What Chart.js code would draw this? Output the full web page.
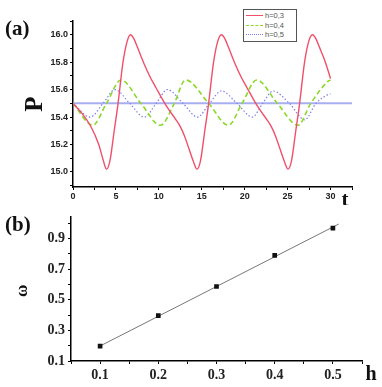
<!DOCTYPE html>
<html>
<head>
<meta charset="utf-8">
<script src="https://cdn.jsdelivr.net/npm/chart.js@4.4.1/dist/chart.umd.min.js"></script>
<style>
    body { margin: 0; background: #fff; width: 382px; height: 387px; position: relative; overflow: hidden; }
    .panel { position: absolute; left: 0; width: 382px; }
    #boxA { top: 0; height: 205px; }
    #boxB { top: 205px; height: 182px; }
    .tag { position: absolute; left: 5px; font: bold 21px "Liberation Serif", serif; color: #111; }
    #legendA { position: absolute; left: 243px; top: 9px; width: 48px; border: 1px solid #555; background: #fff;
               padding: 1px 2px; font: 7.5px "Liberation Sans", sans-serif; color: #555; }
    .row { display: flex; align-items: center; height: 9.5px; }
    .swatch { width: 17px; height: 0; margin-right: 2px; }
</style>
</head>
<body>
<div class="panel" id="boxA"><canvas id="chartA" width="382" height="205"></canvas></div>
<div class="panel" id="boxB"><canvas id="chartB" width="382" height="182"></canvas></div>
<div class="tag" style="top:16px">(a)</div>
<div class="tag" style="top:212px">(b)</div>
<div id="legendA"></div>

<script>
// Datos del panel (a): P en función de t para tres valores de h.
const T_RED = [0, 1.0, 2.0, 3.0, 3.5, 3.9, 4.3, 4.8, 5.25, 5.8, 6.3, 6.7, 7.1, 7.5, 8.2, 9.0, 9.7, 10.5, 11.2, 12.0, 12.5, 13.0, 13.5, 14.0,
               14.45, 14.85, 15.35, 15.8, 16.35, 16.85, 17.3, 17.7, 18.1, 18.8, 19.6, 20.3, 21.1, 21.8, 22.6, 23.1, 23.6, 24.1, 24.6,
               25.05, 25.45, 25.95, 26.4, 26.95, 27.45, 27.9, 28.3, 28.7, 29.4, 30.0];
const P_RED = [15.50, 15.43, 15.34, 15.20, 15.09, 15.02, 15.08, 15.30, 15.50, 15.79, 15.95, 16.00, 15.97, 15.91, 15.80, 15.69, 15.61, 15.52, 15.45, 15.38, 15.33, 15.26, 15.17, 15.08,
               15.02, 15.08, 15.30, 15.50, 15.79, 15.95, 16.00, 15.97, 15.91, 15.80, 15.69, 15.61, 15.52, 15.45, 15.38, 15.33, 15.26, 15.17, 15.08,
               15.02, 15.08, 15.30, 15.50, 15.79, 15.95, 16.00, 15.97, 15.91, 15.80, 15.68];

const T_GREEN = [0, 2.3, 3.9, 5.6, 7.9, 10.2, 11.8, 13.1, 15.8, 18.1, 19.7, 21.4, 23.8, 26.2, 27.7, 29.7, 30.0];
const P_GREEN = [15.50, 15.34, 15.50, 15.67, 15.50, 15.34, 15.50, 15.67, 15.50, 15.34, 15.50, 15.67, 15.50, 15.34, 15.50, 15.66, 15.67];

const T_BLUE = [0, 2.0, 3.5, 4.9, 6.6, 8.3, 9.7, 11.0, 12.8, 14.5, 15.9, 17.3, 19.1, 20.9, 22.1, 23.3, 25.2, 27.0, 28.3, 29.6, 30.0];
const P_BLUE = [15.50, 15.40, 15.50, 15.60, 15.50, 15.40, 15.50, 15.60, 15.50, 15.40, 15.50, 15.59, 15.50, 15.40, 15.50, 15.59, 15.50, 15.38, 15.50, 15.56, 15.57];

// Línea horizontal de referencia en P = 15.5.
const T_REF = [0, 32.5];
const P_REF = [15.5, 15.5];

const SERIES_A = ['h=0,3', 'h=0,4', 'h=0,5'];

// Marcas de los ejes del panel (a).
const X_TICKS_A = [0, 2.5, 5, 7.5, 10, 12.5, 15, 17.5, 20, 22.5, 25, 27.5, 30, 32.5];
const X_LABELS_A = [0, 5, 10, 15, 20, 25, 30];
const Y_TICKS_A = [14.9, 15.0, 15.1, 15.2, 15.3, 15.4, 15.5, 15.6, 15.7, 15.8, 15.9, 16.0, 16.1];
const Y_LABELS_A = [15.0, 15.2, 15.4, 15.6, 15.8, 16.0];

// Datos del panel (b): frecuencia ω en función de h y su ajuste lineal.
const H_VALUES = [0.1, 0.2, 0.3, 0.4, 0.5];
const OMEGA_VALUES = [0.197, 0.397, 0.587, 0.790, 0.968];
const H_FIT = [0.1, 0.51];
const OMEGA_FIT = [0.198, 0.995];

const X_TICKS_B = [0.05, 0.1, 0.15, 0.2, 0.25, 0.3, 0.35, 0.4, 0.45, 0.5, 0.55];
const X_LABELS_B = [0.1, 0.2, 0.3, 0.4, 0.5];
const Y_TICKS_B = [0.1, 0.2, 0.3, 0.4, 0.5, 0.6, 0.7, 0.8, 0.9, 1.0];
const Y_LABELS_B = [0.1, 0.3, 0.5, 0.7, 0.9];

const pairs = (xs, ys) => xs.map((x, i) => ({ x: x, y: ys[i] }));
const isIn = (list, v) => list.some(l => Math.abs(l - v) < 1e-6);

/*
*   Plugin para escribir los nombres de los ejes junto al área del gráfico.
*/
const axisLetters = {
    id: 'axisLetters',
    afterDraw(chart, args, opts) {
        const ctx = chart.ctx;
        const area = chart.chartArea;
        (opts.items || []).forEach(item => {
            ctx.save();
            ctx.font = item.font;
            ctx.fillStyle = '#111';
            ctx.textAlign = 'center';
            ctx.textBaseline = 'middle';
            const x = item.side === 'left' ? area.left + item.dx : area.right + item.dx;
            const y = item.side === 'left' ? (area.top + area.bottom) / 2 + item.dy : area.bottom + item.dy;
            ctx.translate(x, y);
            if (item.rotate) ctx.rotate(-Math.PI / 2);
            ctx.fillText(item.text, 0, 0);
            ctx.restore();
        });
    }
};

const axisStyle = (font, pad) => ({
    border: { display: true, color: '#000', width: 1.5 },
    grid: { drawOnChartArea: false, drawTicks: true, tickLength: 3, color: '#000', tickWidth: 1 },
    ticks: { font: font, color: '#222', padding: pad, autoSkip: false, maxRotation: 0 }
});

// Panel (a)
const fontA = { family: '"Liberation Sans", Arial, sans-serif', size: 9, weight: 'bold' };
const xA = axisStyle(fontA, 1);
const yA = axisStyle(fontA, 2);
const chartA = new Chart(document.getElementById('chartA'), {
    type: 'line',
    data: {
        datasets: [
            { label: SERIES_A[0], data: pairs(T_RED, P_RED), borderColor: '#f0506a', borderWidth: 1.4, pointRadius: 0, cubicInterpolationMode: 'monotone' },
            { label: SERIES_A[1], data: pairs(T_GREEN, P_GREEN), borderColor: '#8ad82a', borderWidth: 1.6, borderDash: [5, 3], pointRadius: 0, cubicInterpolationMode: 'monotone' },
            { label: SERIES_A[2], data: pairs(T_BLUE, P_BLUE), borderColor: '#8080ee', borderWidth: 1.2, borderDash: [1.5, 2], pointRadius: 0, cubicInterpolationMode: 'monotone' },
            { label: 'ref', data: pairs(T_REF, P_REF), borderColor: '#a8aef2', borderWidth: 2, pointRadius: 0 }
        ]
    },
    options: {
        responsive: false,
        animation: false,
        layout: { padding: { left: 0, right: 30, top: 21, bottom: 0 } },
        plugins: {
            legend: { display: false },
            tooltip: { enabled: false },
            axisLetters: {
                items: [
                    { text: 'P', font: 'bold 25px "Liberation Serif", serif', side: 'left', dx: -37, dy: 0, rotate: true },
                    { text: 't', font: 'bold 21px "Liberation Serif", serif', side: 'right', dx: -7, dy: 14 }
                ]
            }
        },
        scales: {
            x: {
                type: 'linear', min: 0, max: 32.5, ...xA,
                ticks: { ...xA.ticks, callback: v => isIn(X_LABELS_A, v) ? String(v) : '' },
                afterBuildTicks: s => { s.ticks = X_TICKS_A.map(v => ({ value: v })); },
                afterFit: s => { s.height = 18; }
            },
            y: {
                type: 'linear', min: 14.89, max: 16.1, ...yA,
                ticks: { ...yA.ticks, callback: v => isIn(Y_LABELS_A, v) ? v.toFixed(1) : '' },
                afterBuildTicks: s => { s.ticks = Y_TICKS_A.map(v => ({ value: v })); },
                afterFit: s => { s.width = 73; }
            }
        }
    },
    plugins: [axisLetters]
});

// Leyenda del panel (a) construida desde los conjuntos de datos.
const legendA = document.getElementById('legendA');
chartA.data.datasets.slice(0, 3).forEach((ds, i) => {
    const row = document.createElement('div');
    row.className = 'row';
    const sw = document.createElement('span');
    sw.className = 'swatch';
    sw.style.borderTop = `1.5px ${['solid', 'dashed', 'dotted'][i]} ${ds.borderColor}`;
    const txt = document.createElement('span');
    txt.textContent = ds.label;
    row.appendChild(sw);
    row.appendChild(txt);
    legendA.appendChild(row);
});

// Panel (b)
const fontB = { family: '"Liberation Serif", "Times New Roman", serif', size: 14, weight: 'bold' };
const xB = axisStyle(fontB, 3);
const yB = axisStyle(fontB, 3);
new Chart(document.getElementById('chartB'), {
    type: 'scatter',
    data: {
        datasets: [
            { label: 'fit', data: pairs(H_FIT, OMEGA_FIT), showLine: true, borderColor: '#777', borderWidth: 1, pointRadius: 0, order: 2 },
            { label: 'ω', data: pairs(H_VALUES, OMEGA_VALUES), pointStyle: 'rect', pointRadius: 3.3, backgroundColor: '#111', borderColor: '#111', borderWidth: 0, order: 1 }
        ]
    },
    options: {
        responsive: false,
        animation: false,
        layout: { padding: { left: 0, right: 20, top: 11, bottom: 0 } },
        plugins: {
            legend: { display: false },
            tooltip: { enabled: false },
            axisLetters: {
                items: [
                    { text: 'ω', font: 'bold 17px "Liberation Serif", serif', side: 'left', dx: -48, dy: 2, rotate: true },
                    { text: 'h', font: 'bold 20px "Liberation Serif", serif', side: 'right', dx: 9, dy: 14 }
                ]
            }
        },
        scales: {
            x: {
                type: 'linear', min: 0.05, max: 0.55, ...xB,
                ticks: { ...xB.ticks, callback: v => isIn(X_LABELS_B, v) ? v.toFixed(1) : '' },
                afterBuildTicks: s => { s.ticks = X_TICKS_B.map(v => ({ value: v })); },
                afterFit: s => { s.height = 26; }
            },
            y: {
                type: 'linear', min: 0.1, max: 1.045, ...yB,
                ticks: { ...yB.ticks, callback: v => isIn(Y_LABELS_B, v) ? v.toFixed(1) : '' },
                afterBuildTicks: s => { s.ticks = Y_TICKS_B.map(v => ({ value: v })); },
                afterFit: s => { s.width = 71; }
            }
        }
    },
    plugins: [axisLetters]
});
</script>
</body>
</html>
